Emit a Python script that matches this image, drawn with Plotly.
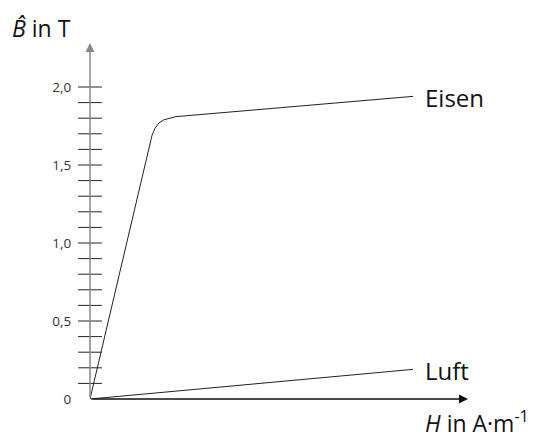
import plotly.graph_objects as go

# Data (H in arbitrary units, B in T)
eisen_h = [0, 60, 62, 65, 69, 74, 80, 86, 323]
eisen_b = [0, 1.64, 1.69, 1.735, 1.77, 1.79, 1.802, 1.81, 1.94]
luft_h = [0, 323]
luft_b = [0, 0.19]
minor_ticks = [round(0.1 * i, 1) for i in range(1, 21)]
label_vals = [0, 0.5, 1.0, 1.5, 2.0]
label_text = ["0", "0,5", "1,0", "1,5", "2,0"]

FONT = "Open Sans"
X_MAX = 380
Y_MAX = 356 / 156


def px(x):
    return (x - 90) / 380


def py(y):
    return (399 - y) / 356


fig = go.Figure()
fig.add_trace(go.Scatter(x=eisen_h, y=eisen_b, mode="lines",
                         line=dict(color="#222", width=1), hoverinfo="skip"))
fig.add_trace(go.Scatter(x=luft_h, y=luft_b, mode="lines",
                         line=dict(color="#222", width=1), hoverinfo="skip"))
fig.add_trace(go.Scatter(x=[0] * len(minor_ticks), y=minor_ticks, mode="markers",
                         marker=dict(symbol="line-ew", size=17,
                                     line=dict(color="#222", width=1)),
                         cliponaxis=False, hoverinfo="skip"))

# axes arrows
fig.add_annotation(x=0, y=Y_MAX, ax=0, ay=0, axref="x", ayref="y", xref="x", yref="y",
                   showarrow=True, arrowhead=2, arrowsize=1.2, arrowwidth=1.5,
                   arrowcolor="#888", text="")
fig.add_annotation(x=X_MAX - 2, y=0, ax=0, ay=0, axref="x", ayref="y", xref="x", yref="y",
                   showarrow=True, arrowhead=2, arrowsize=1.2, arrowwidth=1.5,
                   arrowcolor="#111", text="")

fig.add_annotation(x=px(10), y=py(28), xref="paper", yref="paper", xanchor="left",
                   yanchor="middle", text="<i>B̂</i> in T", showarrow=False,
                   font=dict(family=FONT, size=23, color="#111"))
fig.add_annotation(x=px(423), y=py(422), xref="paper", yref="paper", xanchor="left",
                   yanchor="middle", text="<i>H</i> in A·m<sup>-1</sup>", showarrow=False,
                   font=dict(family=FONT, size=23, color="#111"))
fig.add_annotation(x=px(423), y=py(97), xref="paper", yref="paper", xanchor="left",
                   yanchor="middle", text="Eisen", showarrow=False,
                   font=dict(family=FONT, size=24, color="#111"))
fig.add_annotation(x=px(423), y=py(370), xref="paper", yref="paper", xanchor="left",
                   yanchor="middle", text="Luft", showarrow=False,
                   font=dict(family=FONT, size=24, color="#111"))

fig.update_layout(
    width=536, height=437,
    margin=dict(l=90, r=66, t=43, b=38),
    paper_bgcolor="white", plot_bgcolor="white",
    showlegend=False,
    xaxis=dict(range=[0, X_MAX], visible=False, fixedrange=True),
    yaxis=dict(range=[0, Y_MAX], showgrid=False, zeroline=False, showline=False,
               tickvals=label_vals, ticktext=label_text, ticks="outside",
               ticklen=15, tickcolor="rgba(0,0,0,0)",
               tickfont=dict(family=FONT, size=13.5, color="#333"), fixedrange=True),
)

fig.write_html("out.html", config={"displayModeBar": False},
               post_script="document.body.style.margin='0';")
